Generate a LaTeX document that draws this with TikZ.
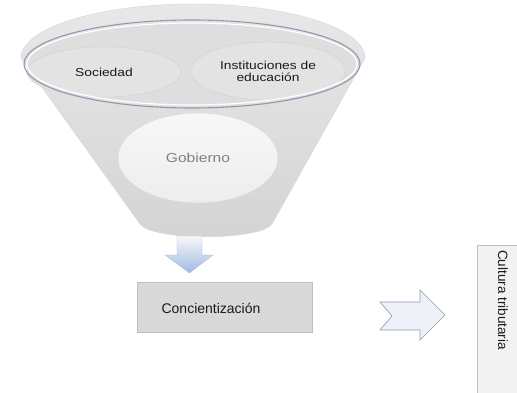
\documentclass[tikz,border=0pt]{standalone}
\usepackage{fontspec}
\setmainfont{Liberation Sans}
\newfontfamily\widefont[FakeStretch=1.2]{Liberation Sans}
\definecolor{ringblue}{HTML}{8A9BB0}
\definecolor{txtdark}{HTML}{1A1A1A}
\tikzset{
  bubble/.style={ellipse, fill=#1, draw=black!18, line width=0.4pt, inner sep=0pt},
  bubtext/.style={font=\widefont\fontsize{11.5}{13}\selectfont, text=txtdark, align=center},
  graybox/.style={draw=black!25, line width=0.6pt},
}
\usetikzlibrary{shapes.geometric}
\begin{document}
\begin{tikzpicture}[x=1pt,y=1pt]
\useasboundingbox (0,0) rectangle (517,393);
\clip (0,0) rectangle (517,393);
% funnel body
\path[top color=black!9, bottom color=black!17, draw=black!15, line width=0.5pt]
  (21,335) -- (140,169) .. controls (152,152) and (260,152) .. (272,169) -- (365,335)
  arc[start angle=0, end angle=180, x radius=172, y radius=54] -- cycle;
% inner rim region
\fill[black!13] (192,329) ellipse[x radius=166, y radius=42];
% bubbles
\node[bubble=black!11, minimum width=154, minimum height=50] (soc) at (104,321) {};
\node[bubble=black!11, minimum width=154, minimum height=58] (inst) at (268,322) {};
\node[ellipse, top color=black!3, bottom color=black!7, draw=black!15, line width=0.4pt, minimum width=160, minimum height=90, inner sep=0pt] (gob) at (198,235) {};
\node[bubtext] at (soc) {Sociedad};
\node[bubtext] at (inst) {Instituciones de\\[-1pt]educación};
\node[font=\widefont\fontsize{13}{15}\selectfont, text=black!50] at (gob) {Gobierno};
% rim
\draw[white, line width=1.2pt] (192,329) ellipse[x radius=165, y radius=41];
\draw[ringblue, line width=1.1pt] (192,329) ellipse[x radius=168, y radius=44];
% down arrow
\path[top color=blue!12!black!3, bottom color={rgb,255:red,160;green,185;blue,228}, draw={rgb,255:red,170;green,190;blue,225}, line width=0.3pt]
  (177,157) -- (202,157) -- (202,138) -- (213,138) -- (189.5,120) -- (165,138) -- (177,138) -- cycle;
% Concientizacion box
\node[graybox, fill=black!15, minimum width=175, minimum height=50, anchor=south west] (conc) at (137,60) {};
\node[font=\fontsize{14}{16}\selectfont, text=txtdark] at (211,85) {Concientización};
% right arrow
\path[fill={rgb,255:red,238;green,242;blue,248}, draw=ringblue, line width=0.6pt]
  (380,91) -- (420,91) -- (420,103) -- (445,78) -- (420,53) -- (420,63) -- (380,63) -- (392,77) -- cycle;
% Cultura tributaria box
\node[graybox, fill=black!5, minimum width=50, minimum height=160, anchor=north west] (cult) at (477,148) {};
\node[rotate=-90, font=\fontsize{13.5}{15}\selectfont, text=txtdark] at (503,93) {Cultura tributaria};
\end{tikzpicture}
\end{document}
